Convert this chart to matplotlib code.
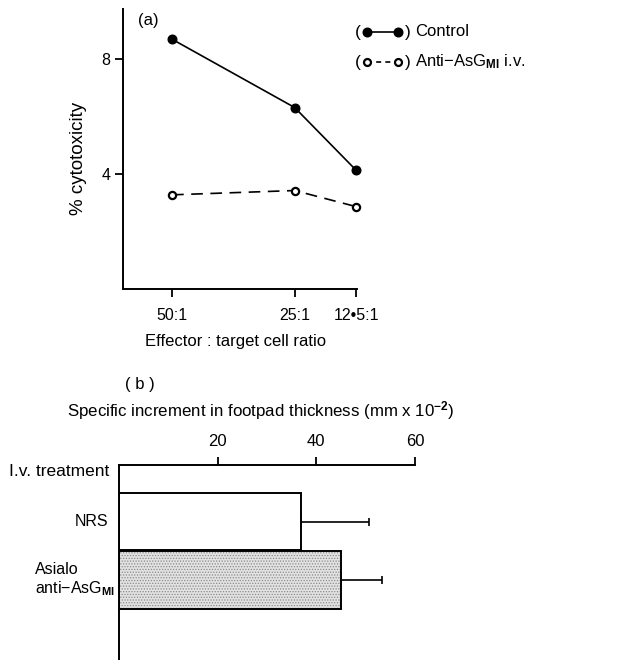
import matplotlib
matplotlib.use("Agg")
import matplotlib.pyplot as plt
from matplotlib.lines import Line2D

plt.rcParams['font.family'] = ['Liberation Sans', 'DejaVu Sans']
plt.rcParams['mathtext.fontset'] = 'custom'
plt.rcParams['mathtext.rm'] = 'Liberation Sans'
plt.rcParams['mathtext.bf'] = 'Liberation Sans:bold'
plt.rcParams['mathtext.it'] = 'Liberation Sans:italic'
plt.rcParams['hatch.linewidth'] = 0.6

# ---- data panel (a) ----
ratios = [50, 25, 12.5]
ratio_labels = ['50:1', '25:1', '12\u20225:1']
control = [8.7, 6.32, 4.14]
anti_asgm1 = [3.28, 3.43, 2.87]
y_ticks_a = [4, 8]

# ---- data panel (b) ----
treatments = ['NRS', 'Asialo\nanti\u2212AsG$_{\\mathbf{MI}}$']
increment = [36.8, 45.0]
increment_err = [13.8, 8.4]
x_ticks_b = [20, 40, 60]

W, H = 618, 660
fig = plt.figure(figsize=(W / 100, H / 100), dpi=100)

def fx(x):
    return x / W

def fy(y):
    return 1 - y / H

# ---------------- panel (a) ----------------
axa = fig.add_axes([fx(123), fy(289), (357 - 123) / W, (289 - 8.5) / H])
axa.plot(ratios, control, color='black', lw=1.2, marker='o', ms=6.2,
         mfc='black', mec='black', clip_on=False, zorder=3)
axa.plot(ratios, anti_asgm1, color='black', lw=1.2, ls=(0, (7, 4.5)), marker='o',
         ms=5.2, mfc='white', mec='black', mew=1.6, clip_on=False, zorder=3)
axa.set_xlim(60, 12.3)
axa.set_ylim(0, 9.77)
axa.set_xticks(ratios)
axa.set_xticklabels(ratio_labels)
axa.set_yticks(y_ticks_a)
axa.set_yticklabels([str(v) for v in y_ticks_a])
for s in ['top', 'right']:
    axa.spines[s].set_visible(False)
for s in ['left', 'bottom']:
    axa.spines[s].set_linewidth(1.4)
axa.tick_params(axis='both', direction='out', length=6, width=1.3, labelsize=11.5)
axa.tick_params(axis='x', pad=8)
axa.tick_params(axis='y', pad=3)
axa.set_ylabel('% cytotoxicity', fontsize=13.5, va='center')
axa.yaxis.set_label_coords(-0.192, 0.467)
fig.text(fx(236), fy(341), 'Effector : target cell ratio', fontsize=12,
         ha='center', va='center')
fig.text(fx(148), fy(20), '(a)', fontsize=12, ha='center', va='center')

# legend (custom style)
for yy, filled, ls, label in [(32, True, '-', 'Control'),
                              (62, False, (0, (3, 2.5)), 'Anti\u2212AsG$_{\\mathbf{MI}}$ i.v.')]:
    fig.text(fx(358), fy(yy), '(', fontsize=12.5, ha='center', va='center')
    fig.text(fx(408), fy(yy), ')', fontsize=12.5, ha='center', va='center')
    ln = Line2D([fx(367), fx(398)], [fy(yy), fy(yy)], transform=fig.transFigure,
                color='black', lw=1.2, ls=ls, marker='o',
                ms=6.2 if filled else 5.0,
                mfc='black' if filled else 'white', mec='black',
                mew=1.0 if filled else 1.6)
    fig.add_artist(ln)
    fig.text(fx(415), fy(yy), label, fontsize=12, ha='left', va='center')

# ---------------- panel (b) ----------------
axb = fig.add_axes([fx(119), 0.0, (415 - 119) / W, (660 - 464.7) / H])
pos = [1, 2]
axb.barh(pos[0], increment[0], height=0.97, color='white', edgecolor='black',
         lw=1.4, zorder=2)
axb.barh(pos[1], increment[1], height=0.99, color='#e2e2e2', edgecolor='#8a8a8a',
         hatch='......', lw=0, zorder=2)
axb.barh(pos[1], increment[1], height=0.99, fill=False, edgecolor='black',
         lw=1.4, zorder=3)
axb.errorbar(increment, pos, xerr=[[0, 0], increment_err], fmt='none',
             ecolor='black', elinewidth=1.2, capsize=3.2, capthick=1.2, zorder=1)
axb.set_xlim(0, 60)
axb.set_ylim(3.364, 0.026)
axb.xaxis.tick_top()
axb.set_xticks(x_ticks_b)
axb.set_xticklabels([str(v) for v in x_ticks_b])
axb.set_yticks([])
for s in ['bottom', 'right']:
    axb.spines[s].set_visible(False)
for s in ['top', 'left']:
    axb.spines[s].set_linewidth(1.4)
axb.tick_params(axis='x', direction='out', length=6, width=1.3, labelsize=12, pad=5)

fig.text(fx(140), fy(384), '( b )', fontsize=12, ha='center', va='center')
fig.text(fx(261), fy(411),
         'Specific increment in footpad thickness (mm x 10$^{\\mathbf{-2}}$)',
         fontsize=12.2, ha='center', va='center')
fig.text(fx(109), fy(472), 'I.v. treatment', fontsize=12.5, ha='right', va='center')
axb.text(-0.035, pos[0], treatments[0], transform=axb.get_yaxis_transform(),
         fontsize=11.5, ha='right', va='center')
axb.text(-0.285, pos[1], treatments[1], transform=axb.get_yaxis_transform(),
         fontsize=11.5, ha='left', va='center', linespacing=1.2)

fig.savefig('out.png', dpi=100)
